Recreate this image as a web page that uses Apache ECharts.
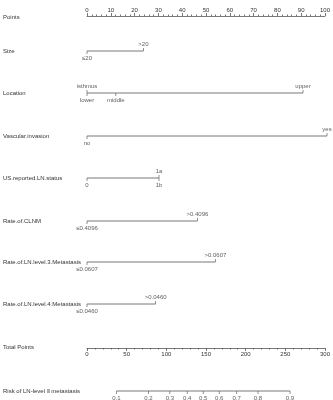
<!DOCTYPE html>
<html>
<head>
<meta charset="utf-8">
<script src="https://cdn.jsdelivr.net/npm/echarts@6/dist/echarts.min.js"></script>
<style>
    html, body { margin: 0; padding: 0; background: #fff; }
    #nomogram { width: 333px; height: 400px; }
</style>
</head>
<body>
<div id="nomogram"></div>
<script>
    // row names, top to bottom
    var rowNames = ['Points', 'Size', 'Location', 'Vascular.invasion', 'US.reported.LN.status',
        'Rate.of.CLNM', 'Rate.of.LN.level.3.Metastasis', 'Rate.of.LN.level.4.Metastasis',
        'Total Points', 'Risk of LN-level \u2161 metastasis'];

    // predictor levels and their points
    var sizeLevels = ['\u226420', '>20'];
    var sizePoints = [0, 23.5];
    var locationLevels = ['isthmus', 'lower', 'middle', 'upper'];
    var locationPoints = [0, 0, 12, 90];
    var vascularLevels = ['no', 'yes'];
    var vascularPoints = [0, 100];
    var usLevels = ['0', '1a', '1b'];
    var usPoints = [0, 30, 30];
    var clnmLevels = ['\u22640.4096', '>0.4096'];
    var clnmPoints = [0, 46];
    var level3Levels = ['\u22640.0607', '>0.0607'];
    var level3Points = [0, 53.5];
    var level4Levels = ['\u22640.0460', '>0.0460'];
    var level4Points = [0, 28.6];

    // risk ticks placed on the total points scale
    var riskLabels = ['0.1', '0.2', '0.3', '0.4', '0.5', '0.6', '0.7', '0.8', '0.9'];
    var riskTotalPoints = [36.8, 76.8, 103.5, 125.3, 145.3, 165.3, 187.1, 213.8, 253.8];

    // layout: line y of every row, label side of every level
    var rowY = [17, 51, 93, 136, 178, 221, 262, 304, 347, 391];
    var sides = {
        Size: ['bottom', 'top'],
        Location: ['top', 'bottom', 'bottom', 'top'],
        'Vascular.invasion': ['bottom', 'top'],
        'US.reported.LN.status': ['bottom', 'top', 'bottom'],
        'Rate.of.CLNM': ['bottom', 'top'],
        'Rate.of.LN.level.3.Metastasis': ['bottom', 'top'],
        'Rate.of.LN.level.4.Metastasis': ['bottom', 'top']
    };

    var lineColor = '#555';
    var textColor = '#333';
    var fontFamily = 'Liberation Sans, Arial, sans-serif';

    var chart = echarts.init(document.getElementById('nomogram'), null, { renderer: 'canvas' });

    var grids = [], xAxes = [], yAxes = [], series = [];

    function addRow(i, xMax, axisShown, axisPos, interval) {
        grids.push({ left: 86, right: 6, top: rowY[i] - 1, height: 2 });
        xAxes.push({
            gridIndex: i,
            type: 'value',
            min: 0,
            max: xMax,
            interval: interval,
            show: axisShown,
            position: axisPos,
            splitLine: { show: false },
            axisLine: { show: true, lineStyle: { color: lineColor, width: 0.8 } },
            axisTick: { show: true, length: 3, lineStyle: { color: lineColor, width: 0.8 } },
            minorTick: { show: true, splitNumber: 5, length: 1.5, lineStyle: { color: lineColor, width: 0.8 } },
            axisLabel: { fontSize: 6, color: textColor, margin: 3, fontFamily: fontFamily }
        });
        yAxes.push({
            gridIndex: i,
            type: 'category',
            data: [rowNames[i]],
            axisLine: { show: false },
            axisTick: { show: false },
            axisLabel: { align: 'left', margin: 84, fontSize: 6, color: textColor, fontFamily: fontFamily }
        });
    }

    // one segment with ticks and labels on a hidden x scale
    function addSegment(i, levels, pts, levelSides) {
        var maxPt = Math.max.apply(null, pts);
        var minPt = Math.min.apply(null, pts);
        series.push({
            type: 'line',
            xAxisIndex: i,
            yAxisIndex: i,
            symbol: 'none',
            silent: true,
            lineStyle: { color: lineColor, width: 0.8 },
            data: [[minPt, 0], [maxPt, 0]]
        });
        series.push({
            type: 'scatter',
            xAxisIndex: i,
            yAxisIndex: i,
            silent: true,
            symbol: 'rect',
            data: levels.map(function (lv, k) {
                var side = levelSides[k];
                return {
                    value: [pts[k], 0],
                    symbolSize: [0.8, 3],
                    symbolOffset: [0, side === 'top' ? -1.5 : 1.5],
                    label: { show: true, position: side, distance: 1, formatter: lv }
                };
            }),
            itemStyle: { color: lineColor },
            label: { fontSize: 6, color: textColor, fontFamily: fontFamily }
        });
    }

    // Points scale
    addRow(0, 100, true, 'top', 10);

    var rows = [
        [sizeLevels, sizePoints],
        [locationLevels, locationPoints],
        [vascularLevels, vascularPoints],
        [usLevels, usPoints],
        [clnmLevels, clnmPoints],
        [level3Levels, level3Points],
        [level4Levels, level4Points]
    ];
    rows.forEach(function (r, k) {
        var i = k + 1;
        addRow(i, 100, false, 'bottom', 10);
        addSegment(i, r[0], r[1], sides[rowNames[i]]);
    });

    // Total Points scale
    addRow(8, 300, true, 'bottom', 50);

    // Risk on the total points scale
    addRow(9, 300, false, 'bottom', 50);
    addSegment(9, riskLabels, riskTotalPoints, riskLabels.map(function () { return 'bottom'; }));

    var options = {
        backgroundColor: '#fff',
        animation: false,
        grid: grids,
        xAxis: xAxes,
        yAxis: yAxes,
        series: series
    };
    chart.setOption(options);
    window.addEventListener('resize', chart.resize);
</script>
</body>
</html>
